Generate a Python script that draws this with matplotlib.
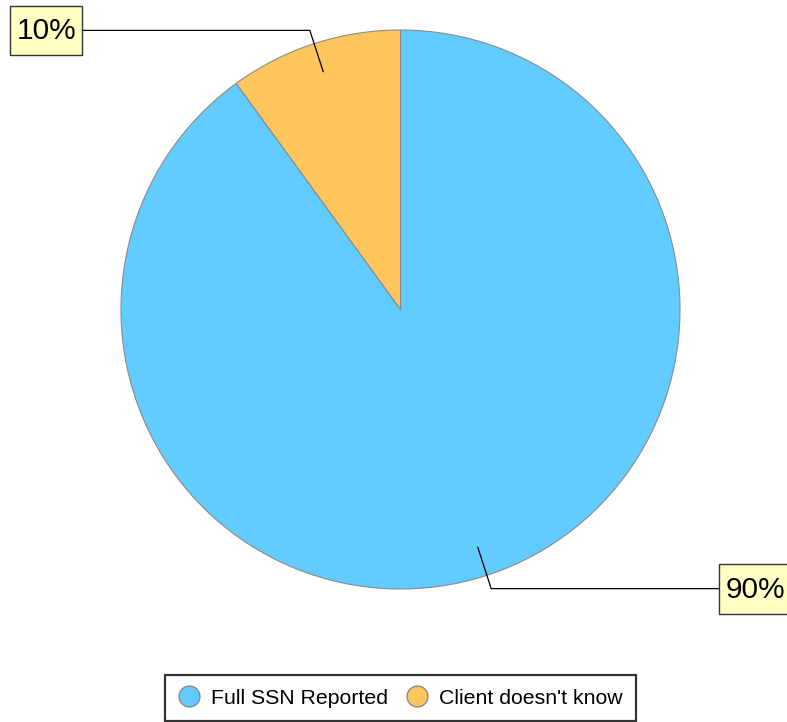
import numpy as np
import matplotlib
matplotlib.use("Agg")
import matplotlib.pyplot as plt
from matplotlib.lines import Line2D
from matplotlib.patches import Rectangle

plt.rcParams['font.family'] = ['Liberation Sans', 'DejaVu Sans']

categories = ["Full SSN Reported", "Client doesn't know"]
values = [90, 10]
labels = ["90%", "10%"]
colors = ["#62CBFF", "#FFC65E"]

W, H = 787, 722
fig = plt.figure(figsize=(W / 100, H / 100), dpi=100)
ax = fig.add_axes([0, 0, 1, 1])

cx, cy, R = 400.5, H - 309.5, 279.5
wedges, _ = ax.pie(values, colors=colors, startangle=90, counterclock=False,
                   center=(cx, cy), radius=R, frame=True,
                   wedgeprops=dict(edgecolor="#8a8a8a", linewidth=0.8))
ax.set_xlim(0, W)
ax.set_ylim(0, H)
ax.set_aspect('equal')
ax.axis('off')

# label boxes: x of the box edge that the leader line meets, side, box size
label_spots = {
    "90%": dict(xbox=719, side='left', w=72, h=50),
    "10%": dict(xbox=82, side='right', w=72, h=49),
}

for w, lab in zip(wedges, labels):
    mid = np.deg2rad((w.theta1 + w.theta2) / 2)
    p0 = (cx + 0.895 * R * np.cos(mid), cy + 0.895 * R * np.sin(mid))
    p1 = (cx + 1.05 * R * np.cos(mid), cy + 1.05 * R * np.sin(mid))
    spot = label_spots[lab]
    p2 = (spot['xbox'], p1[1])
    ax.plot([p0[0], p1[0], p2[0]], [p0[1], p1[1], p2[1]], color='black',
            lw=0.9, solid_joinstyle='miter')
    x0 = spot['xbox'] if spot['side'] == 'left' else spot['xbox'] - spot['w']
    y0 = p1[1] - spot['h'] / 2
    ax.add_patch(Rectangle((x0, y0), spot['w'], spot['h'], facecolor='#FFFFC4',
                           edgecolor='#333333', linewidth=1.0, zorder=3))
    ax.text(x0 + 7, p1[1] - 1, lab, ha='left', va='center', fontsize=21.5,
            color='black', zorder=4)

handles = [Line2D([0], [0], marker='o', linestyle='none', markersize=15,
                  markerfacecolor=c, markeredgecolor='#888888',
                  markeredgewidth=1.0) for c in colors]
leg = ax.legend(handles, categories, loc='center',
                bbox_to_anchor=(400.5 / W, 1 - 698 / H),
                bbox_transform=fig.transFigure, ncol=2, fontsize=15.3,
                frameon=True, fancybox=False, handlelength=1.0,
                handletextpad=0.55, columnspacing=0.85, borderpad=0.62)
leg.get_frame().set_edgecolor('black')
leg.get_frame().set_linewidth(1.6)

fig.savefig("out.png", dpi=100, facecolor='white')
